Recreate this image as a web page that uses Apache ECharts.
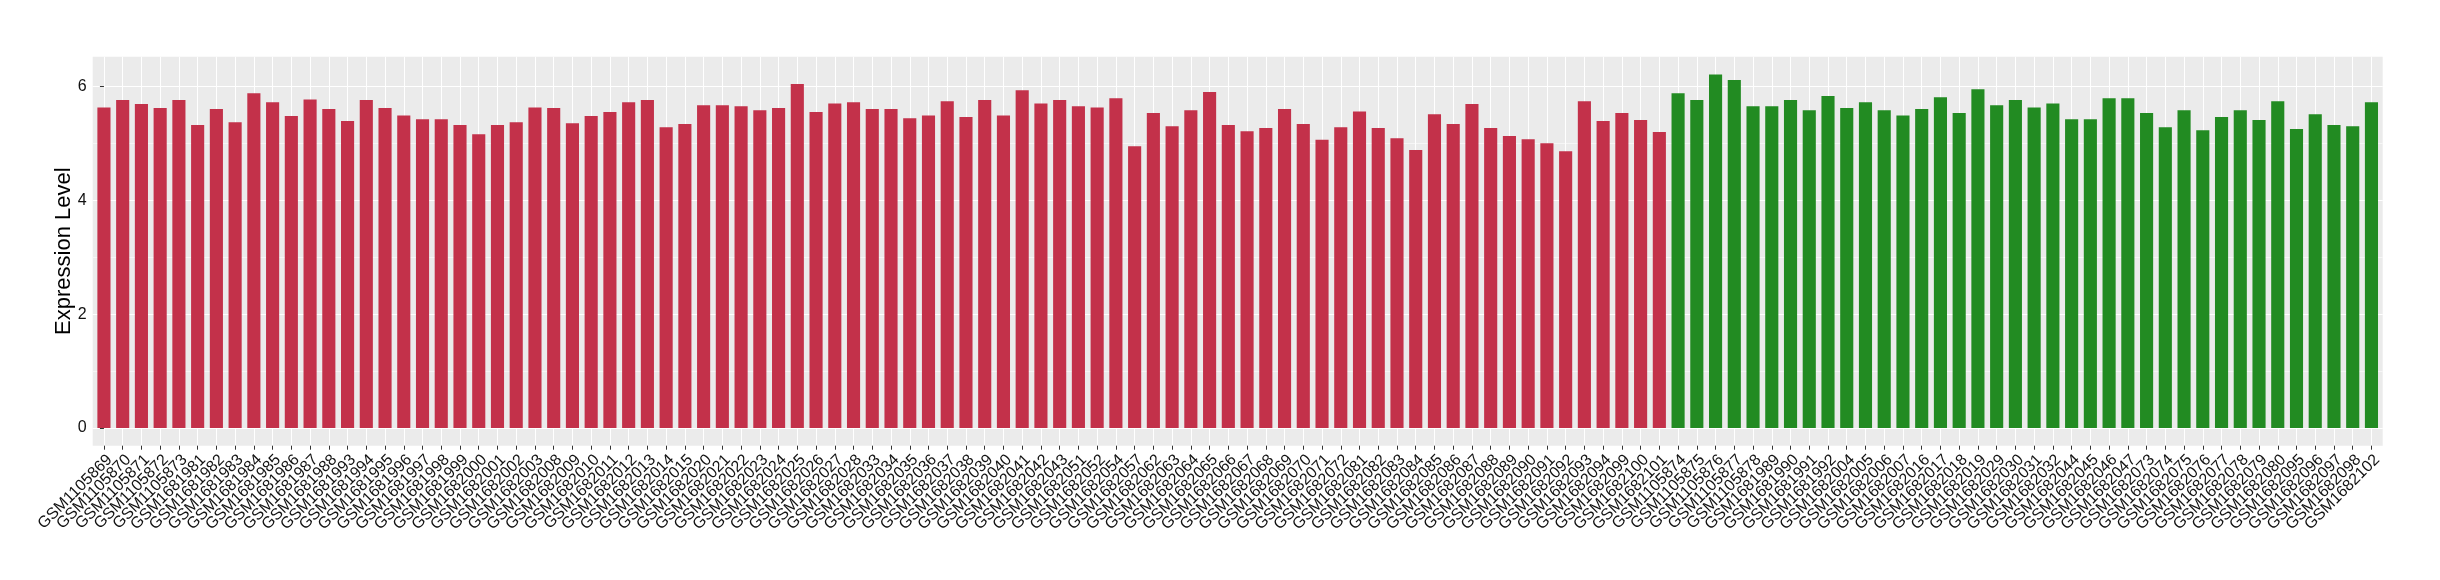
<!DOCTYPE html>
<html>
<head>
<meta charset="utf-8">
<script src="https://cdn.jsdelivr.net/npm/echarts@6/dist/echarts.min.js"></script>
<style>
html,body{margin:0;padding:0;background:#fff;}
#chart{width:2440px;height:580px;}
</style>
</head>
<body>
<div id="chart"></div>
<script>
// ---- data ----
const redSamples = [
  'GSM1105869','GSM1105870','GSM1105871','GSM1105872','GSM1105873',
  'GSM1681981','GSM1681982','GSM1681983','GSM1681984','GSM1681985','GSM1681986','GSM1681987','GSM1681988',
  'GSM1681993','GSM1681994','GSM1681995','GSM1681996','GSM1681997','GSM1681998','GSM1681999',
  'GSM1682000','GSM1682001','GSM1682002','GSM1682003',
  'GSM1682008','GSM1682009','GSM1682010','GSM1682011','GSM1682012','GSM1682013','GSM1682014','GSM1682015',
  'GSM1682020','GSM1682021','GSM1682022','GSM1682023','GSM1682024','GSM1682025','GSM1682026','GSM1682027','GSM1682028',
  'GSM1682033','GSM1682034','GSM1682035','GSM1682036','GSM1682037','GSM1682038','GSM1682039','GSM1682040','GSM1682041','GSM1682042','GSM1682043',
  'GSM1682051','GSM1682052','GSM1682054','GSM1682057',
  'GSM1682062','GSM1682063','GSM1682064','GSM1682065','GSM1682066','GSM1682067','GSM1682068','GSM1682069','GSM1682070','GSM1682071','GSM1682072',
  'GSM1682081','GSM1682082','GSM1682083','GSM1682084','GSM1682085','GSM1682086','GSM1682087','GSM1682088','GSM1682089','GSM1682090','GSM1682091','GSM1682092','GSM1682093','GSM1682094',
  'GSM1682099','GSM1682100','GSM1682101'
];
const redValues = [
  5.63,5.76,5.69,5.62,5.76,5.32,5.60,5.37,5.88,5.72,5.48,5.77,5.60,5.39,5.76,5.62,5.49,5.42,5.42,5.32,
  5.16,5.32,5.37,5.63,5.62,5.35,5.48,5.55,5.72,5.76,5.28,5.34,5.67,5.67,5.65,5.58,5.62,6.04,5.55,5.70,
  5.72,5.60,5.60,5.44,5.49,5.74,5.46,5.76,5.49,5.93,5.70,5.76,5.65,5.63,5.79,4.95,5.53,5.30,5.58,5.90,
  5.32,5.21,5.27,5.60,5.34,5.06,5.28,5.56,5.27,5.09,4.88,5.51,5.34,5.69,5.27,5.13,5.07,5.00,4.86,5.74,
  5.39,5.53,5.41,5.20
];
const greenSamples = [
  'GSM1105874','GSM1105875','GSM1105876','GSM1105877','GSM1105878',
  'GSM1681989','GSM1681990','GSM1681991','GSM1681992',
  'GSM1682004','GSM1682005','GSM1682006','GSM1682007',
  'GSM1682016','GSM1682017','GSM1682018','GSM1682019',
  'GSM1682029','GSM1682030','GSM1682031','GSM1682032',
  'GSM1682044','GSM1682045','GSM1682046','GSM1682047',
  'GSM1682073','GSM1682074','GSM1682075','GSM1682076','GSM1682077','GSM1682078','GSM1682079','GSM1682080',
  'GSM1682095','GSM1682096','GSM1682097','GSM1682098','GSM1682102'
];
const greenValues = [
  5.88,5.76,6.21,6.11,5.65,5.65,5.76,5.58,5.83,5.62,5.72,5.58,5.49,5.60,5.81,5.53,5.95,5.67,5.76,5.63,
  5.70,5.42,5.42,5.79,5.79,5.53,5.28,5.58,5.23,5.46,5.58,5.41,5.74,5.25,5.51,5.32,5.30,5.72
];
const yTicks = [0, 2, 4, 6];
const yTitle = 'Expression Level';

// ---- layout (ggplot-like panel) ----
const categories = redSamples.concat(greenSamples);
const allValues = redValues.concat(greenValues);
const N = categories.length;
const panelLeft = 92.7, panelRight = 2382.7, panelTop = 56.7, panelBottom = 445.7;
const panelW = panelRight - panelLeft, panelH = panelBottom - panelTop;
const xExp = 0.6;
const unitX = panelW / (N - 1 + 2 * xExp);
const yMaxData = Math.max.apply(null, allValues);
const yLo = -0.05 * yMaxData, yHi = 1.05 * yMaxData;
const unitY = panelH / (yHi - yLo);
const yTopTick = yTicks[yTicks.length - 1];
const hTop = panelTop + (yHi - yTopTick) * unitY;
const hHeight = (yTopTick - yTicks[0]) * unitY;

const FONT = 'Liberation Sans, Arial, sans-serif';
const RED = '#C3314A', GREEN = '#228B22';

const chart = echarts.init(document.getElementById('chart'), null, {renderer: 'canvas'});
const option = {
  animation: false,
  backgroundColor: '#ffffff',
  grid: [
    { // panel background
      left: panelLeft, top: panelTop, width: panelW, height: panelH,
      show: true, backgroundColor: '#EBEBEB', borderWidth: 0, outerBoundsMode: 'none', z: 0
    },
    { // vertical grid lines at category centres, ticks + labels
      left: panelLeft + xExp * unitX, top: panelTop, width: (N - 1) * unitX, height: panelH,
      show: false, outerBoundsMode: 'none'
    },
    { // bars + y axis
      left: panelLeft, top: hTop, width: panelW, height: hHeight,
      show: false, outerBoundsMode: 'none'
    }
  ],
  xAxis: [
    { gridIndex: 0, type: 'value', show: false, min: 0, max: 1 },
    {
      gridIndex: 1, type: 'category', data: categories, boundaryGap: false,
      axisLine: { show: false },
      axisTick: { show: true, interval: 0, length: 4, lineStyle: { color: '#333333', width: 1 } },
      splitLine: { show: true, interval: 0, lineStyle: { color: '#FFFFFF', width: 1 } },
      axisLabel: {
        interval: 0, rotate: 45, margin: 6, color: '#111111', fontSize: 16, fontFamily: FONT,
        align: 'right', verticalAlign: 'top'
      }
    },
    { gridIndex: 2, type: 'value', show: false, min: -xExp, max: N - 1 + xExp }
  ],
  yAxis: [
    {
      gridIndex: 0, type: 'value', min: 0, max: 1,
      axisLine: { show: false }, axisTick: { show: false }, axisLabel: { show: false },
      splitLine: { show: false },
      name: yTitle, nameLocation: 'middle', nameGap: 18,
      nameTextStyle: { fontSize: 22, color: '#000000', fontFamily: FONT }
    },
    { gridIndex: 1, type: 'value', show: false },
    {
      gridIndex: 2, type: 'value', min: yTicks[0], max: yTopTick, interval: yTicks[1] - yTicks[0],
      axisLine: { show: false },
      axisTick: { show: true, length: 4, lineStyle: { color: '#333333', width: 1 } },
      axisLabel: { margin: 6, color: '#111111', fontSize: 16, fontFamily: FONT },
      splitLine: { show: true, lineStyle: { color: '#FFFFFF', width: 1.2 } },
      minorTick: { show: false, splitNumber: 2 },
      minorSplitLine: { show: true, lineStyle: { color: '#F6F6F6', width: 1 } }
    }
  ],
  series: [
    {
      type: 'bar', xAxisIndex: 2, yAxisIndex: 2, stack: 'all', clip: false,
      barWidth: unitX * 0.7, itemStyle: { color: RED },
      data: redValues.map((v, i) => [i, v])
    },
    {
      type: 'bar', xAxisIndex: 2, yAxisIndex: 2, stack: 'all', clip: false,
      barWidth: unitX * 0.7, itemStyle: { color: GREEN },
      data: greenValues.map((v, i) => [i + redValues.length, v])
    }
  ]
};
chart.setOption(option);
</script>
</body>
</html>
